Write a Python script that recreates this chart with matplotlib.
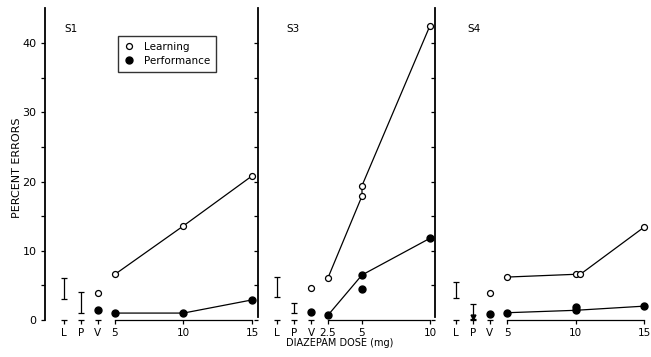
import matplotlib
matplotlib.use("Agg")
import matplotlib.pyplot as plt
from matplotlib.lines import Line2D

plt.rcParams['font.family'] = ['DejaVu Sans']

# ---------------- data ----------------
ctrl_labels = ["L", "P", "V"]

s1_doses = [5, 10, 15]
s1_learn = [6.6, 13.6, 20.8]
s1_perf = [1.0, 1.0, 2.9]
s1_L = (3.0, 6.0)
s1_P = (1.0, 4.0)
s1_V_learn = 3.9
s1_V_perf = 1.5

s3_doses = [2.5, 5, 10]
s3_learn_x = [2.5, 5, 5, 10]
s3_learn = [6.1, 17.9, 19.4, 42.5]
s3_perf_x = [2.5, 5, 10]
s3_perf = [0.7, 6.5, 11.8]
s3_perf_extra_x = [5]
s3_perf_extra = [4.5]
s3_L = (3.3, 6.2)
s3_P = (1.0, 2.4)
s3_V_learn = 4.6
s3_V_perf = 1.1

s4_doses = [5, 10, 15]
s4_learn_x = [5, 10, 10.35, 15]
s4_learn = [6.2, 6.6, 6.6, 13.4]
s4_perf_x = [5, 10, 15]
s4_perf = [1.05, 1.4, 2.0]
s4_perf_extra_x = [10]
s4_perf_extra = [1.9]
s4_L = (3.2, 5.5)
s4_P = (0.2, 2.3)
s4_V_learn = 3.85
s4_V_perf = 0.9

# ---------------- layout ----------------
W, H = 651, 357
fig = plt.figure(figsize=(W / 100, H / 100), dpi=100)

def px(x0, x1):
    return x0 / W, (x1 - x0) / W

y_bot = (H - 320) / H
y_h = (320 - 8) / H
ymax = 312 / 6.925

panels = [
    dict(name="S1", xpix=(45, 258), xlim=(-0.11, 15.44), doses=s1_doses,
         lx=s1_doses, ly=s1_learn, perx=s1_doses, pery=s1_perf, ex=[], ey=[],
         L=s1_L, P=s1_P, VL=s1_V_learn, VP=s1_V_perf, labelpix=(64, 29)),
    dict(name="S3", xpix=(258, 435), xlim=(-2.65, 10.37), doses=s3_doses,
         lx=s3_learn_x, ly=s3_learn, perx=s3_perf_x, pery=s3_perf,
         ex=s3_perf_extra_x, ey=s3_perf_extra,
         L=s3_L, P=s3_P, VL=s3_V_learn, VP=s3_V_perf, labelpix=(286, 29)),
    dict(name="S4", xpix=(435, 651), xlim=(-0.26, 15.51), doses=s4_doses,
         lx=s4_learn_x, ly=s4_learn, perx=s4_perf_x, pery=s4_perf,
         ex=s4_perf_extra_x, ey=s4_perf_extra,
         L=s4_L, P=s4_P, VL=s4_V_learn, VP=s4_V_perf, labelpix=(467, 29)),
]

lw = 0.9
fs = 7.5
step = 1.25

for i, p in enumerate(panels):
    l, w = px(*p["xpix"])
    ax = fig.add_axes([l, y_bot, w, y_h])
    ax.set_xlim(*p["xlim"])
    ax.set_ylim(0, ymax)
    ax.patch.set_alpha(0)
    for s in ["top", "right"]:
        ax.spines[s].set_visible(False)
    ax.spines["left"].set_linewidth(1.3)
    ax.spines["left"].set_bounds(0 if i == 0 else 0.5, ymax)
    ax.spines["bottom"].set_linewidth(lw)
    first = p["doses"][0]
    ctrl_x = [first - step * k for k in (3, 2, 1)]
    ax.spines["bottom"].set_bounds(first, p["doses"][-1])

    # "T" marks at controls
    for cx in ctrl_x:
        ax.plot([cx - 0.22, cx + 0.22], [0, 0], color="black", lw=lw,
                clip_on=False, solid_capstyle="butt")

    ticks_x = ctrl_x + list(p["doses"])
    labels_x = ctrl_labels + [("%g" % d) for d in p["doses"]]
    ax.set_xticks(ticks_x)
    ax.set_xticklabels(labels_x, fontsize=fs)
    ax.tick_params(axis="x", direction="out", length=3, width=lw, pad=3)

    ax.set_yticks([0, 5, 10, 15, 20, 25, 30, 35, 40])
    if i == 0:
        ax.set_yticklabels(["0", "", "10", "", "20", "", "30", "", "40"], fontsize=fs + 0.5)
    else:
        ax.set_yticklabels([])
    ax.tick_params(axis="y", direction="out", length=3, width=lw, pad=3)

    # controls: L, P ranges
    for cx, rng in zip(ctrl_x[:2], [p["L"], p["P"]]):
        mid = (rng[0] + rng[1]) / 2
        ax.errorbar([cx], [mid], yerr=[[mid - rng[0]], [rng[1] - mid]],
                    fmt="none", ecolor="black", elinewidth=lw, capsize=2.3,
                    capthick=lw, clip_on=False)
    if i == 2:
        ax.plot([ctrl_x[1]], [p["P"][0] + 0.3], marker="v", color="black",
                ms=3.5, clip_on=False)
    # controls: V points
    ax.plot([ctrl_x[2]], [p["VL"]], "o", mfc="white", mec="black", mew=lw,
            ms=4.3, clip_on=False)
    ax.plot([ctrl_x[2]], [p["VP"]], "o", color="black", ms=5, clip_on=False)

    # dose-response
    ax.plot(p["lx"], p["ly"], "-o", color="black", lw=lw, mfc="white",
            mec="black", mew=lw, ms=4.3, clip_on=False, zorder=3)
    ax.plot(p["perx"], p["pery"], "-o", color="black", lw=lw, ms=5,
            clip_on=False, zorder=3)
    if p["ex"]:
        ax.plot(p["ex"], p["ey"], "o", color="black", ms=5, clip_on=False,
                zorder=3)

    fig.text(p["labelpix"][0] / W, 1 - p["labelpix"][1] / H, p["name"],
             fontsize=fs, ha="left", va="center")

    if i == 0:
        handles = [
            Line2D([], [], ls="none", marker="o", mfc="white", mec="black",
                   mew=lw, ms=4.3),
            Line2D([], [], ls="none", marker="o", color="black", ms=5),
        ]
        leg = fig.legend(handles, ["Learning", "Performance"],
                         loc="upper left",
                         bbox_to_anchor=(118 / W, 1 - 36 / H),
                         fontsize=fs, frameon=True, fancybox=False,
                         edgecolor="black", borderpad=0.55, handlelength=1.0,
                         handletextpad=0.9, labelspacing=0.4,
                         borderaxespad=0)
        leg.get_frame().set_linewidth(1.0)

fig.text(17 / W, 1 - 168 / H, "PERCENT ERRORS", rotation=90, fontsize=8,
         ha="center", va="center")
fig.text(340 / W, 1 - 343 / H, "DIAZEPAM DOSE (mg)", fontsize=7,
         ha="center", va="center")

fig.savefig("out.png", dpi=100)
